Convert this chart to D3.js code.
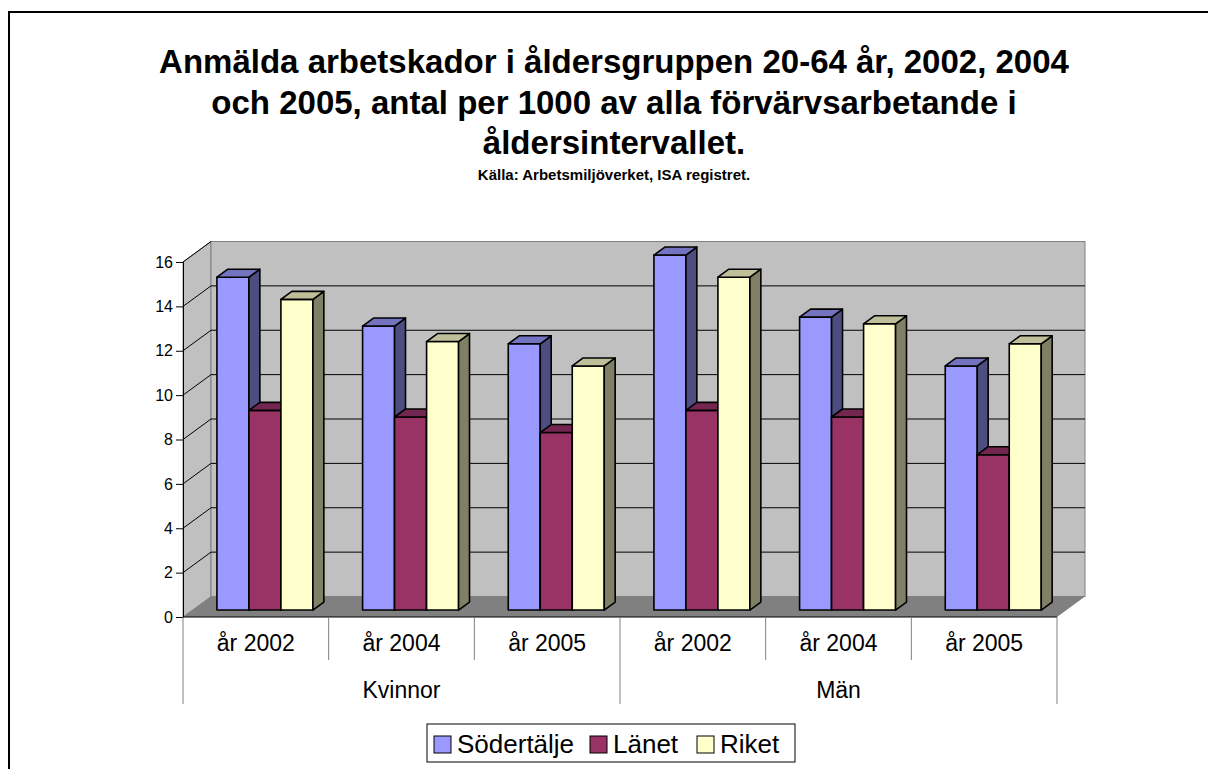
<!DOCTYPE html>
<html>
<head>
<meta charset="utf-8">
<script src="https://cdn.jsdelivr.net/npm/d3@7"></script>
<style>
  html, body { margin: 0; background: #fff; overflow: hidden; }
  svg { display: block; }
  text { font-family: "Liberation Sans", Arial, sans-serif; }
</style>
</head>
<body>
<svg id="chart" width="1208" height="769"></svg>
<script>
// data
var series = ["Södertälje", "Länet", "Riket"];
var groups = ["Kvinnor", "Män"];
var years = ["år 2002", "år 2004", "år 2005"];
var sodertalje = [15.0, 12.8, 12.0, 16.0, 13.2, 11.0];
var lanet = [9.0, 8.7, 8.0, 9.0, 8.7, 7.0];
var riket = [14.0, 12.1, 11.0, 15.0, 12.9, 12.0];
var yTicks = [0, 2, 4, 6, 8, 10, 12, 14, 16];

var titleLines = ["Anmälda arbetskador i åldersgruppen 20-64 år, 2002, 2004",
                  "och 2005, antal per 1000 av alla förvärvsarbetande i",
                  "åldersintervallet."];
var subtitle = "Källa: Arbetsmiljöverket, ISA registret.";

// colours: front, side, top
var colors = {
  "Södertälje": ["#9999ff", "#4d4d80", "#7373bf"],
  "Länet": ["#993366", "#4d1a33", "#732650"],
  "Riket": ["#ffffcc", "#808066", "#bfbf99"]
};

var svg = d3.select("#chart");

// outer frame
svg.append("rect")
    .attr("x", 9).attr("y", 12)
    .attr("width", 1260).attr("height", 820)
    .attr("fill", "none").attr("stroke", "#000").attr("stroke-width", 2);

// titles
var titleY = [73, 114, 154];
svg.selectAll(".title")
    .data(titleLines)
    .enter().append("text")
    .attr("class", "title")
    .attr("x", 614)
    .attr("y", function(d, i) { return titleY[i]; })
    .attr("text-anchor", "middle")
    .attr("font-size", 33).attr("font-weight", "bold")
    .text(function(d) { return d; });

svg.append("text")
    .attr("x", 614).attr("y", 180)
    .attr("text-anchor", "middle")
    .attr("font-size", 15).attr("font-weight", "bold")
    .text(subtitle);

// one category cell per group/year
var cats = [];
groups.forEach(function(g) {
  years.forEach(function(yr) { cats.push(g + "|" + yr); });
});
var values = { "Södertälje": sodertalje, "Länet": lanet, "Riket": riket };

// scales (front plane)
var x = d3.scaleBand().domain(cats).range([183, 1057]);
var xs = d3.scaleBand().domain(series).range([24.4, 120.4]);
var y = d3.scaleLinear().domain([0, 16]).range([617, 262]);

// depth vector for full chart depth
var dx = 28, dy = -20.5;
var f1 = 0.34, f2 = 0.73; // bar front and back depth fractions

function pts(a) { return a.map(function(p) { return p.join(","); }).join(" "); }

var plot = svg.append("g");

// floor
plot.append("polygon")
    .attr("points", pts([[x.range()[0], y(0)], [x.range()[0] + dx, y(0) + dy],
                         [x.range()[1] + dx, y(0) + dy], [x.range()[1], y(0)]]))
    .attr("fill", "#808080");

// left wall
plot.append("polygon")
    .attr("points", pts([[183, y(0)], [183, y(16)], [183 + dx, y(16) + dy], [183 + dx, y(0) + dy]]))
    .attr("fill", "#c0c0c0").attr("stroke", "#808080").attr("stroke-width", 1);

// back wall
plot.append("rect")
    .attr("x", 183 + dx).attr("y", y(16) + dy)
    .attr("width", x.range()[1] - 183).attr("height", y(0) - y(16))
    .attr("fill", "#c0c0c0").attr("stroke", "#808080").attr("stroke-width", 1);

// gridlines
var grid = yTicks.filter(function(v) { return v > 0 && v < 16; });
plot.selectAll(".gback")
    .data(grid)
    .enter().append("line")
    .attr("x1", 183 + dx).attr("x2", x.range()[1] + dx)
    .attr("y1", function(d) { return y(d) + dy; })
    .attr("y2", function(d) { return y(d) + dy; })
    .attr("stroke", "#000").attr("stroke-width", 1);
plot.selectAll(".gside")
    .data(yTicks.filter(function(v) { return v > 0; }))
    .enter().append("line")
    .attr("x1", 183).attr("x2", 183 + dx)
    .attr("y1", function(d) { return y(d); })
    .attr("y2", function(d) { return y(d) + dy; })
    .attr("stroke", "#000").attr("stroke-width", 1);

// y axis
var yAxis = svg.append("g")
    .attr("transform", "translate(183,0)")
    .call(d3.axisLeft(y).tickValues(yTicks).tickSize(7).tickPadding(3).tickFormat(d3.format("d")));
yAxis.select(".domain").attr("stroke", "#000");
yAxis.selectAll("text").attr("font-size", 16).attr("font-family", "Liberation Sans, Arial, sans-serif").attr("fill", "#000");

// bars, left to right so each front face covers the neighbour's side
cats.forEach(function(c, i) {
  series.forEach(function(s) {
    var v = values[s][i];
    var xl = x(c) + xs(s) + f1 * dx;
    var xr = xl + xs.bandwidth();
    var yb = y(0) + f1 * dy;
    var yt = y(v) + f1 * dy;
    var ddx = (f2 - f1) * dx, ddy = (f2 - f1) * dy;
    var g = plot.append("g").attr("stroke", "#000").attr("stroke-width", 1.6).attr("stroke-linejoin", "round");
    g.append("polygon").attr("fill", colors[s][0])
        .attr("points", pts([[xl, yb], [xl, yt], [xr, yt], [xr, yb]]));
    g.append("polygon").attr("fill", colors[s][1])
        .attr("points", pts([[xr, yb], [xr, yt], [xr + ddx, yt + ddy], [xr + ddx, yb + ddy]]));
    g.append("polygon").attr("fill", colors[s][2])
        .attr("points", pts([[xl, yt], [xl + ddx, yt + ddy], [xr + ddx, yt + ddy], [xr, yt]]));
  });
});

// category axis (two levels)
var xa = svg.append("g");
xa.append("line")
    .attr("x1", 183).attr("x2", x.range()[1])
    .attr("y1", y(0)).attr("y2", y(0))
    .attr("stroke", "#000");
var seps = cats.map(function(c) { return x(c); }).concat([x.range()[1]]);
xa.selectAll(".sep")
    .data(seps)
    .enter().append("line")
    .attr("x1", function(d) { return d; }).attr("x2", function(d) { return d; })
    .attr("y1", y(0))
    .attr("y2", function(d, i) { return (i % 3 === 0) ? 704 : 660; })
    .attr("stroke", "#808080");
xa.selectAll(".yr")
    .data(cats)
    .enter().append("text")
    .attr("x", function(d) { return x(d) + x.bandwidth() / 2; })
    .attr("y", 651)
    .attr("text-anchor", "middle")
    .attr("font-size", 23)
    .text(function(d) { return d.split("|")[1]; });
xa.selectAll(".grp")
    .data(groups)
    .enter().append("text")
    .attr("x", function(d) { return x(d + "|" + years[0]) + x.bandwidth() * 1.5; })
    .attr("y", 698)
    .attr("text-anchor", "middle")
    .attr("font-size", 23)
    .text(function(d) { return d; });

// legend
var legend = svg.append("g");
legend.append("rect")
    .attr("x", 427).attr("y", 724).attr("width", 368).attr("height", 38)
    .attr("fill", "#fff").attr("stroke", "#000").attr("stroke-width", 1);
var legX = [434, 590, 697];
var li = legend.selectAll(".li")
    .data(series)
    .enter().append("g")
    .attr("transform", function(d, i) { return "translate(" + legX[i] + ",736)"; });
li.append("rect")
    .attr("width", 17).attr("height", 17)
    .attr("fill", function(d) { return colors[d][0]; })
    .attr("stroke", "#000").attr("stroke-width", 1);
li.append("text")
    .attr("x", 23).attr("y", 17)
    .attr("font-size", 26)
    .text(function(d) { return d; });
</script>
</body>
</html>
